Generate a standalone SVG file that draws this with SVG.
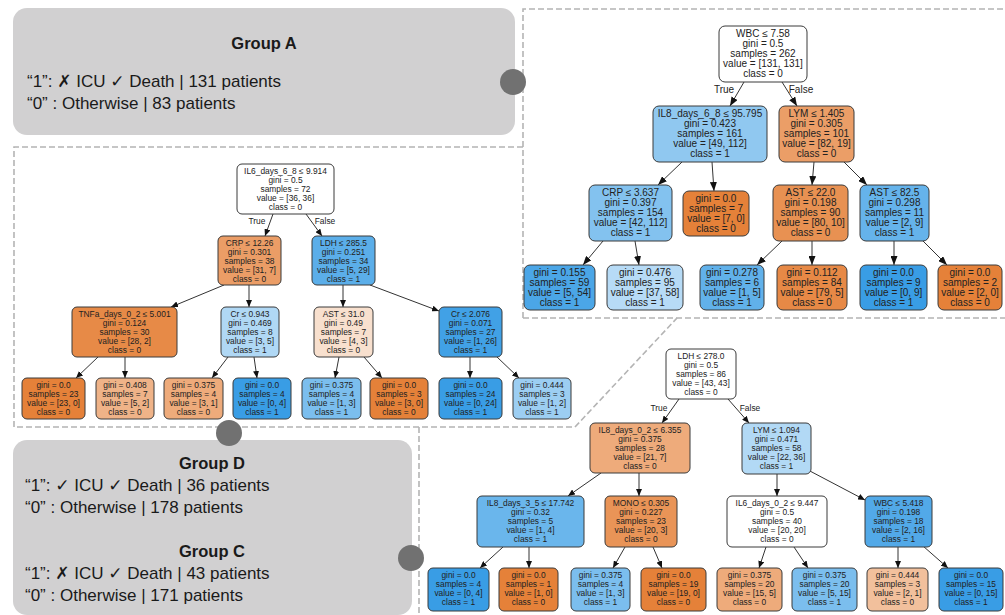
<svg xmlns="http://www.w3.org/2000/svg" width="1005" height="615" viewBox="0 0 1005 615">
  <defs>
    <style>
      .bg { fill: #ffffff; }
      .frame { fill: none; stroke: #b4b4b4; stroke-width: 1.6; stroke-dasharray: 6 3; }
      .group { fill: #d1d0d1; }
      .dot { fill: #717171; }
      .gtitle { font-family: "Liberation Sans", Arial, sans-serif; font-size: 16.5px; font-weight: bold; fill: #1a1a1a; text-anchor: middle; }
      .gtext { font-family: "Liberation Sans", Arial, sans-serif; font-size: 17px; fill: #1a1a1a; }
      .sym { font-family: "DejaVu Sans", sans-serif; }
      .node rect { stroke: #3a3a3a; stroke-width: 1; }
      .big text { font-family: "Liberation Sans", Arial, sans-serif; font-size: 10px; fill: #222; text-anchor: middle; }
      .small text { font-family: "Liberation Sans", Arial, sans-serif; font-size: 8.4px; fill: #222; text-anchor: middle; }
      .edge line { stroke: #333; stroke-width: 1; }
      .e1 { marker-end: url(#arrowBig); }
      .e2 { marker-end: url(#arrowSmall); }
      .lbl1 { font-family: "Liberation Sans", Arial, sans-serif; font-size: 10px; fill: #222; text-anchor: middle; }
      .lbl2 { font-family: "Liberation Sans", Arial, sans-serif; font-size: 8.4px; fill: #222; text-anchor: middle; }
    </style>
    <marker id="arrowBig" markerUnits="userSpaceOnUse" markerWidth="9" markerHeight="7" refX="9" refY="3.5" orient="auto">
      <path d="M0,0 L9,3.5 L0,7 z" fill="#111"/>
    </marker>
    <marker id="arrowSmall" markerUnits="userSpaceOnUse" markerWidth="7" markerHeight="6" refX="7" refY="3" orient="auto">
      <path d="M0,0 L7,3 L0,6 z" fill="#111"/>
    </marker>
  </defs>

  <rect class="bg" x="0" y="0" width="1005" height="615"/>

  <!-- dashed panel outlines around the three trees -->
  <g id="panels">
    <path class="frame" d="M523,318 L523,9 L1006,9"/>
    <path class="frame" d="M523,318 L1006,318"/>
    <path class="frame" d="M523,147 L14,147 L14,427 L575,427 L677,318"/>
    <path class="frame" d="M419,427 L419,616"/>
  </g>

  <!-- group legends -->
  <g id="groupA">
    <rect class="group" x="13" y="8" width="502" height="127" rx="14"/>
    <text class="gtitle" x="264" y="49">Group A</text>
    <text class="gtext" x="27" y="87">“1”: <tspan class="sym" font-weight="bold">✗</tspan> ICU <tspan class="sym">✓</tspan> Death | 131 patients</text>
    <text class="gtext" x="27" y="109">“0” : Otherwise | 83 patients</text>
  </g>
  <g id="groupDC">
    <rect class="group" x="13" y="440" width="399" height="175" rx="14"/>
    <text class="gtitle" x="212" y="469">Group D</text>
    <text class="gtext" x="25" y="491">“1”: <tspan class="sym">✓</tspan> ICU <tspan class="sym">✓</tspan> Death | 36 patients</text>
    <text class="gtext" x="25" y="513">“0” : Otherwise | 178 patients</text>
    <text class="gtitle" x="212" y="557">Group C</text>
    <text class="gtext" x="25" y="579">“1”: <tspan class="sym" font-weight="bold">✗</tspan> ICU <tspan class="sym">✓</tspan> Death | 43 patients</text>
    <text class="gtext" x="25" y="601">“0” : Otherwise | 171 patients</text>
  </g>

  <g id="handles">
    <circle class="dot" cx="513" cy="82" r="13"/>
    <circle class="dot" cx="229" cy="433" r="13"/>
    <circle class="dot" cx="411" cy="558" r="13"/>
  </g>

  <!-- connectors -->
  <g id="connectors" class="edge">
    <!-- tree A -->
    <line class="e1" x1="744" y1="82" x2="730" y2="106"/>
    <line class="e1" x1="782" y1="82" x2="797" y2="106"/>
    <line class="e1" x1="682" y1="162" x2="658" y2="185"/>
    <line class="e1" x1="712" y1="162" x2="714" y2="191"/>
    <line class="e1" x1="814" y1="162" x2="812" y2="185"/>
    <line class="e1" x1="844" y1="162" x2="867" y2="185"/>
    <line class="e1" x1="603" y1="241" x2="583" y2="265"/>
    <line class="e1" x1="635" y1="241" x2="639" y2="265"/>
    <line class="e1" x1="782" y1="241" x2="757" y2="265"/>
    <line class="e1" x1="812" y1="241" x2="812" y2="265"/>
    <line class="e1" x1="894" y1="241" x2="894" y2="265"/>
    <line class="e1" x1="923" y1="241" x2="947" y2="265"/>
    <!-- tree D -->
    <line class="e2" x1="273" y1="214" x2="265" y2="236"/>
    <line class="e2" x1="306" y1="214" x2="322" y2="236"/>
    <line class="e2" x1="224" y1="285" x2="171" y2="307"/>
    <line class="e2" x1="249" y1="285" x2="249" y2="307"/>
    <line class="e2" x1="343" y1="285" x2="343" y2="307"/>
    <line class="e2" x1="370" y1="285" x2="439" y2="311"/>
    <line class="e2" x1="98" y1="357" x2="76" y2="378"/>
    <line class="e2" x1="125" y1="357" x2="125" y2="378"/>
    <line class="e2" x1="228" y1="357" x2="212" y2="378"/>
    <line class="e2" x1="254" y1="357" x2="257" y2="378"/>
    <line class="e2" x1="339" y1="357" x2="335" y2="378"/>
    <line class="e2" x1="364" y1="357" x2="382" y2="378"/>
    <line class="e2" x1="470" y1="357" x2="470" y2="378"/>
    <line class="e2" x1="497" y1="357" x2="519" y2="378"/>
    <!-- tree C -->
    <line class="e2" x1="679" y1="399" x2="662" y2="423"/>
    <line class="e2" x1="728" y1="399" x2="749" y2="423"/>
    <line class="e2" x1="601" y1="473" x2="568" y2="496"/>
    <line class="e2" x1="639" y1="473" x2="639" y2="496"/>
    <line class="e2" x1="777" y1="474" x2="777" y2="496"/>
    <line class="e2" x1="808" y1="470" x2="865" y2="500"/>
    <line class="e2" x1="503" y1="547" x2="480" y2="568"/>
    <line class="e2" x1="529" y1="547" x2="529" y2="568"/>
    <line class="e2" x1="625" y1="547" x2="613" y2="568"/>
    <line class="e2" x1="653" y1="547" x2="662" y2="568"/>
    <line class="e2" x1="766" y1="547" x2="759" y2="568"/>
    <line class="e2" x1="794" y1="547" x2="808" y2="568"/>
    <line class="e2" x1="898" y1="547" x2="898" y2="568"/>
    <line class="e2" x1="923" y1="546" x2="948" y2="568"/>
  </g>
  <g id="edge-labels">
    <text class="lbl1" x="724" y="92.5">True</text>
    <text class="lbl1" x="801" y="92.5">False</text>
    <text class="lbl2" x="257" y="224">True</text>
    <text class="lbl2" x="325" y="224">False</text>
    <text class="lbl2" x="659" y="411">True</text>
    <text class="lbl2" x="750" y="411">False</text>
  </g>

  <!-- tree A nodes -->
  <g class="big">
    <g id="a0" class="node"><rect x="719" y="26" width="88" height="56" rx="6" fill="#ffffff"/>
      <text x="763" y="36.5">WBC ≤ 7.58</text><text x="763" y="46.5">gini = 0.5</text><text x="763" y="56.5">samples = 262</text><text x="763" y="66.5">value = [131, 131]</text><text x="763" y="76.5">class = 0</text></g>
    <g id="a1" class="node"><rect x="653" y="106" width="114" height="56" rx="6" fill="#90c8f0"/>
      <text x="710" y="116.5">IL8_days_6_8 ≤ 95.795</text><text x="710" y="126.5">gini = 0.423</text><text x="710" y="136.5">samples = 161</text><text x="710" y="146.5">value = [49, 112]</text><text x="710" y="156.5">class = 1</text></g>
    <g id="a2" class="node"><rect x="779" y="106" width="75" height="56" rx="6" fill="#eb9e67"/>
      <text x="816.5" y="116.5">LYM ≤ 1.405</text><text x="816.5" y="126.5">gini = 0.305</text><text x="816.5" y="136.5">samples = 101</text><text x="816.5" y="146.5">value = [82, 19]</text><text x="816.5" y="156.5">class = 0</text></g>
    <g id="a3" class="node"><rect x="589" y="185" width="83" height="56" rx="6" fill="#83c2ef"/>
      <text x="630.5" y="195.5">CRP ≤ 3.637</text><text x="630.5" y="205.5">gini = 0.397</text><text x="630.5" y="215.5">samples = 154</text><text x="630.5" y="225.5">value = [42, 112]</text><text x="630.5" y="235.5">class = 1</text></g>
    <g id="a4" class="node"><rect x="683" y="191" width="66" height="45" rx="6" fill="#e58139"/>
      <text x="716" y="201.5">gini = 0.0</text><text x="716" y="211.5">samples = 7</text><text x="716" y="221.5">value = [7, 0]</text><text x="716" y="231.5">class = 0</text></g>
    <g id="a5" class="node"><rect x="773" y="185" width="75" height="56" rx="6" fill="#e89152"/>
      <text x="810.5" y="195.5">AST ≤ 22.0</text><text x="810.5" y="205.5">gini = 0.198</text><text x="810.5" y="215.5">samples = 90</text><text x="810.5" y="225.5">value = [80, 10]</text><text x="810.5" y="235.5">class = 0</text></g>
    <g id="a6" class="node"><rect x="860" y="185" width="69" height="56" rx="6" fill="#65b3eb"/>
      <text x="894.5" y="195.5">AST ≤ 82.5</text><text x="894.5" y="205.5">gini = 0.298</text><text x="894.5" y="215.5">samples = 11</text><text x="894.5" y="225.5">value = [2, 9]</text><text x="894.5" y="235.5">class = 1</text></g>
    <g id="a7" class="node"><rect x="524" y="265" width="71" height="45" rx="6" fill="#4ba6e7"/>
      <text x="559.5" y="275.5">gini = 0.155</text><text x="559.5" y="285.5">samples = 59</text><text x="559.5" y="295.5">value = [5, 54]</text><text x="559.5" y="305.5">class = 1</text></g>
    <g id="a8" class="node"><rect x="607" y="265" width="76" height="45" rx="6" fill="#b7dbf6"/>
      <text x="645" y="275.5">gini = 0.476</text><text x="645" y="285.5">samples = 95</text><text x="645" y="295.5">value = [37, 58]</text><text x="645" y="305.5">class = 1</text></g>
    <g id="a9" class="node"><rect x="700" y="265" width="64" height="45" rx="6" fill="#61b1ea"/>
      <text x="732" y="275.5">gini = 0.278</text><text x="732" y="285.5">samples = 6</text><text x="732" y="295.5">value = [1, 5]</text><text x="732" y="305.5">class = 1</text></g>
    <g id="a10" class="node"><rect x="777" y="265" width="70" height="45" rx="6" fill="#e78946"/>
      <text x="812" y="275.5">gini = 0.112</text><text x="812" y="285.5">samples = 84</text><text x="812" y="295.5">value = [79, 5]</text><text x="812" y="305.5">class = 0</text></g>
    <g id="a11" class="node"><rect x="860" y="265" width="67" height="45" rx="6" fill="#399de5"/>
      <text x="893.5" y="275.5">gini = 0.0</text><text x="893.5" y="285.5">samples = 9</text><text x="893.5" y="295.5">value = [0, 9]</text><text x="893.5" y="305.5">class = 1</text></g>
    <g id="a12" class="node"><rect x="938" y="265" width="64" height="45" rx="6" fill="#e58139"/>
      <text x="970" y="275.5">gini = 0.0</text><text x="970" y="285.5">samples = 2</text><text x="970" y="295.5">value = [2, 0]</text><text x="970" y="305.5">class = 0</text></g>
  </g>

  <!-- tree D nodes -->
  <g class="small">
    <g id="d0" class="node"><rect x="237" y="164" width="97" height="50" rx="5" fill="#ffffff"/>
      <text x="285.5" y="174">IL6_days_6_8 ≤ 9.914</text><text x="285.5" y="183">gini = 0.5</text><text x="285.5" y="192">samples = 72</text><text x="285.5" y="201">value = [36, 36]</text><text x="285.5" y="210">class = 0</text></g>
    <g id="d1" class="node"><rect x="218" y="236" width="63" height="49" rx="5" fill="#eb9d66"/>
      <text x="249.5" y="246">CRP ≤ 12.26</text><text x="249.5" y="255">gini = 0.301</text><text x="249.5" y="264">samples = 38</text><text x="249.5" y="273">value = [31, 7]</text><text x="249.5" y="282">class = 0</text></g>
    <g id="d2" class="node"><rect x="312" y="236" width="63" height="49" rx="5" fill="#5baee9"/>
      <text x="343.5" y="246">LDH ≤ 285.5</text><text x="343.5" y="255">gini = 0.251</text><text x="343.5" y="264">samples = 34</text><text x="343.5" y="273">value = [5, 29]</text><text x="343.5" y="282">class = 1</text></g>
    <g id="d3" class="node"><rect x="72" y="307" width="105" height="50" rx="5" fill="#e78a47"/>
      <text x="124.5" y="317">TNFa_days_0_2 ≤ 5.001</text><text x="124.5" y="326">gini = 0.124</text><text x="124.5" y="335">samples = 30</text><text x="124.5" y="344">value = [28, 2]</text><text x="124.5" y="353">class = 0</text></g>
    <g id="d4" class="node"><rect x="221" y="307" width="58" height="50" rx="5" fill="#b0d8f5"/>
      <text x="250" y="317">Cr ≤ 0.943</text><text x="250" y="326">gini = 0.469</text><text x="250" y="335">samples = 8</text><text x="250" y="344">value = [3, 5]</text><text x="250" y="353">class = 1</text></g>
    <g id="d5" class="node"><rect x="314" y="307" width="59" height="50" rx="5" fill="#f8e0ce"/>
      <text x="343.5" y="317">AST ≤ 31.0</text><text x="343.5" y="326">gini = 0.49</text><text x="343.5" y="335">samples = 7</text><text x="343.5" y="344">value = [4, 3]</text><text x="343.5" y="353">class = 0</text></g>
    <g id="d6" class="node"><rect x="439" y="307" width="63" height="50" rx="5" fill="#41a1e6"/>
      <text x="470.5" y="317">Cr ≤ 2.076</text><text x="470.5" y="326">gini = 0.071</text><text x="470.5" y="335">samples = 27</text><text x="470.5" y="344">value = [1, 26]</text><text x="470.5" y="353">class = 1</text></g>
    <g id="d7" class="node"><rect x="22" y="378" width="63" height="41" rx="5" fill="#e58139"/>
      <text x="53.5" y="388">gini = 0.0</text><text x="53.5" y="397">samples = 23</text><text x="53.5" y="406">value = [23, 0]</text><text x="53.5" y="415">class = 0</text></g>
    <g id="d8" class="node"><rect x="96" y="378" width="58" height="41" rx="5" fill="#efb388"/>
      <text x="125" y="388">gini = 0.408</text><text x="125" y="397">samples = 7</text><text x="125" y="406">value = [5, 2]</text><text x="125" y="415">class = 0</text></g>
    <g id="d9" class="node"><rect x="164" y="378" width="59" height="41" rx="5" fill="#eeab7b"/>
      <text x="193.5" y="388">gini = 0.375</text><text x="193.5" y="397">samples = 4</text><text x="193.5" y="406">value = [3, 1]</text><text x="193.5" y="415">class = 0</text></g>
    <g id="d10" class="node"><rect x="233" y="378" width="58" height="41" rx="5" fill="#399de5"/>
      <text x="262" y="388">gini = 0.0</text><text x="262" y="397">samples = 4</text><text x="262" y="406">value = [0, 4]</text><text x="262" y="415">class = 1</text></g>
    <g id="d11" class="node"><rect x="302" y="378" width="59" height="41" rx="5" fill="#7bbeee"/>
      <text x="331.5" y="388">gini = 0.375</text><text x="331.5" y="397">samples = 4</text><text x="331.5" y="406">value = [1, 3]</text><text x="331.5" y="415">class = 1</text></g>
    <g id="d12" class="node"><rect x="370" y="378" width="58" height="41" rx="5" fill="#e58139"/>
      <text x="399" y="388">gini = 0.0</text><text x="399" y="397">samples = 3</text><text x="399" y="406">value = [3, 0]</text><text x="399" y="415">class = 0</text></g>
    <g id="d13" class="node"><rect x="439" y="378" width="63" height="41" rx="5" fill="#399de5"/>
      <text x="470.5" y="388">gini = 0.0</text><text x="470.5" y="397">samples = 24</text><text x="470.5" y="406">value = [0, 24]</text><text x="470.5" y="415">class = 1</text></g>
    <g id="d14" class="node"><rect x="513" y="378" width="58" height="41" rx="5" fill="#9ccef2"/>
      <text x="542" y="388">gini = 0.444</text><text x="542" y="397">samples = 3</text><text x="542" y="406">value = [1, 2]</text><text x="542" y="415">class = 1</text></g>
  </g>

  <!-- tree C nodes -->
  <g class="small">
    <g id="c0" class="node"><rect x="666" y="349" width="70" height="50" rx="5" fill="#ffffff"/>
      <text x="701" y="359">LDH ≤ 278.0</text><text x="701" y="368">gini = 0.5</text><text x="701" y="377">samples = 86</text><text x="701" y="386">value = [43, 43]</text><text x="701" y="395">class = 0</text></g>
    <g id="c1" class="node"><rect x="590" y="423" width="100" height="50" rx="5" fill="#eeab7b"/>
      <text x="640" y="433">IL8_days_0_2 ≤ 6.355</text><text x="640" y="442">gini = 0.375</text><text x="640" y="451">samples = 28</text><text x="640" y="460">value = [21, 7]</text><text x="640" y="469">class = 0</text></g>
    <g id="c2" class="node"><rect x="742" y="423" width="69" height="51" rx="5" fill="#b2d9f5"/>
      <text x="776.5" y="433">LYM ≤ 1.094</text><text x="776.5" y="442">gini = 0.471</text><text x="776.5" y="451">samples = 58</text><text x="776.5" y="460">value = [22, 36]</text><text x="776.5" y="469">class = 1</text></g>
    <g id="c3" class="node"><rect x="477" y="496" width="107" height="51" rx="5" fill="#6ab6ec"/>
      <text x="530.5" y="506">IL8_days_3_5 ≤ 17.742</text><text x="530.5" y="515">gini = 0.32</text><text x="530.5" y="524">samples = 5</text><text x="530.5" y="533">value = [1, 4]</text><text x="530.5" y="542">class = 1</text></g>
    <g id="c4" class="node"><rect x="605" y="496" width="72" height="51" rx="5" fill="#e99457"/>
      <text x="641" y="506">MONO ≤ 0.305</text><text x="641" y="515">gini = 0.227</text><text x="641" y="524">samples = 23</text><text x="641" y="533">value = [20, 3]</text><text x="641" y="542">class = 0</text></g>
    <g id="c5" class="node"><rect x="727" y="496" width="100" height="51" rx="5" fill="#ffffff"/>
      <text x="777" y="506">IL6_days_0_2 ≤ 9.447</text><text x="777" y="515">gini = 0.5</text><text x="777" y="524">samples = 40</text><text x="777" y="533">value = [20, 20]</text><text x="777" y="542">class = 0</text></g>
    <g id="c6" class="node"><rect x="865" y="496" width="67" height="51" rx="5" fill="#52a9e8"/>
      <text x="898.5" y="506">WBC ≤ 5.418</text><text x="898.5" y="515">gini = 0.198</text><text x="898.5" y="524">samples = 18</text><text x="898.5" y="533">value = [2, 16]</text><text x="898.5" y="542">class = 1</text></g>
    <g id="c7" class="node"><rect x="428" y="568" width="61" height="43" rx="5" fill="#399de5"/>
      <text x="458.5" y="578">gini = 0.0</text><text x="458.5" y="587">samples = 4</text><text x="458.5" y="596">value = [0, 4]</text><text x="458.5" y="605">class = 1</text></g>
    <g id="c8" class="node"><rect x="499" y="568" width="59" height="43" rx="5" fill="#e58139"/>
      <text x="528.5" y="578">gini = 0.0</text><text x="528.5" y="587">samples = 1</text><text x="528.5" y="596">value = [1, 0]</text><text x="528.5" y="605">class = 0</text></g>
    <g id="c9" class="node"><rect x="571" y="568" width="59" height="43" rx="5" fill="#7bbeee"/>
      <text x="600.5" y="578">gini = 0.375</text><text x="600.5" y="587">samples = 4</text><text x="600.5" y="596">value = [1, 3]</text><text x="600.5" y="605">class = 1</text></g>
    <g id="c10" class="node"><rect x="641" y="568" width="65" height="43" rx="5" fill="#e58139"/>
      <text x="673.5" y="578">gini = 0.0</text><text x="673.5" y="587">samples = 19</text><text x="673.5" y="596">value = [19, 0]</text><text x="673.5" y="605">class = 0</text></g>
    <g id="c11" class="node"><rect x="717" y="568" width="65" height="43" rx="5" fill="#eeab7b"/>
      <text x="749.5" y="578">gini = 0.375</text><text x="749.5" y="587">samples = 20</text><text x="749.5" y="596">value = [15, 5]</text><text x="749.5" y="605">class = 0</text></g>
    <g id="c12" class="node"><rect x="792" y="568" width="65" height="43" rx="5" fill="#7bbeee"/>
      <text x="824.5" y="578">gini = 0.375</text><text x="824.5" y="587">samples = 20</text><text x="824.5" y="596">value = [5, 15]</text><text x="824.5" y="605">class = 1</text></g>
    <g id="c13" class="node"><rect x="867" y="568" width="61" height="43" rx="5" fill="#f2c09c"/>
      <text x="897.5" y="578">gini = 0.444</text><text x="897.5" y="587">samples = 3</text><text x="897.5" y="596">value = [2, 1]</text><text x="897.5" y="605">class = 0</text></g>
    <g id="c14" class="node"><rect x="939" y="568" width="64" height="43" rx="5" fill="#399de5"/>
      <text x="971" y="578">gini = 0.0</text><text x="971" y="587">samples = 15</text><text x="971" y="596">value = [0, 15]</text><text x="971" y="605">class = 1</text></g>
  </g>
</svg>
